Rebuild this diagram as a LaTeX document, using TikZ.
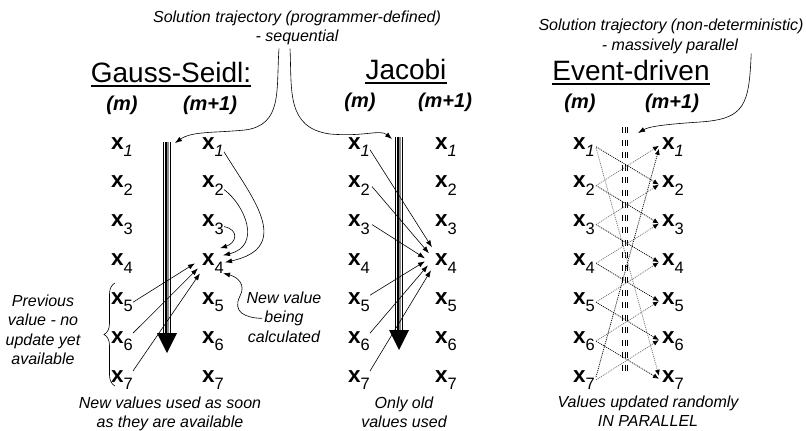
\documentclass[tikz,border=0pt]{standalone}
\usepackage{fontspec}
\setmainfont{Liberation Sans}
\usetikzlibrary{arrows.meta,calc,decorations.pathreplacing}
\newcommand\xlab[1]{\fontsize{22.5}{22.5}\selectfont\textbf{x}\raisebox{-7.5pt}{\fontsize{16.5}{16.5}\selectfont #1}}
\begin{document}
\begin{tikzpicture}[x=1pt,y=-1pt,
  xnode/.style={inner sep=0pt, anchor=base},
  ttl/.style={inner sep=0pt, anchor=base, font=\fontsize{28}{28}\selectfont},
  hdr/.style={inner sep=0pt, anchor=base, font=\fontsize{20}{20}\selectfont\bfseries\itshape},
  note/.style={inner sep=0pt, anchor=base, font=\fontsize{16}{16}\selectfont\itshape},
  arr/.style={-{Latex[length=7pt,width=5pt]}, line width=0.6pt},
  dotdown/.style={dash pattern=on 1pt off 1pt, line width=0.75pt, black, -{Latex[length=6pt,width=5pt,color=black]}},
  dotup/.style={dash pattern=on 1pt off 1pt, line width=0.75pt, black!55, -{Latex[length=6pt,width=5pt,color=black]}},
  trajblack/.style={line width=8.5pt, black},
  trajwhite/.style={line width=6.3pt, white},
  trajinner/.style={line width=4.5pt, black},
  trajgray/.style={line width=2.6pt, black!45},
  edash/.style={line width=0.9pt, dash pattern=on 6pt off 6.5pt},
]
\useasboundingbox (0,0) rectangle (806,431);

% titles
\node[ttl] (tgs) at (171,82) {Gauss-Seidl:};
\node[ttl] (tj) at (406,79) {Jacobi};
\node[ttl] (te) at (631,80) {Event-driven};
\foreach \t in {tgs,tj,te}
  \draw[line width=1.8pt] ($(\t.base west)+(0,4)$) -- ($(\t.base east)+(0,4)$);

% headers
\node[hdr] (hgm) at (122,110) {(m)};
\node[hdr] (hgn) at (210,110) {(m+1)};
\node[hdr] (hjm) at (360,107) {(m)};
\node[hdr] (hjn) at (445,107) {(m+1)};
\node[hdr] (hem) at (580,108) {(m)};
\node[hdr] (hen) at (672,108) {(m+1)};

% labels
\foreach \i/\y/\s in {1/149/\textit{1},2/187.8/2,3/226.7/3,4/265.5/4,5/304.3/5,6/343.2/6,7/382/7}{
  \node[xnode] (gm\i) at (122,\y) {\xlab{\s}};
  \node[xnode] (gn\i) at (213,\y) {\xlab{\s}};
  \node[xnode] (jm\i) at (359,\y) {\xlab{\s}};
  \node[xnode] (jn\i) at (446,\y) {\xlab{\s}};
  \node[xnode] (em\i) at (584,\y) {\xlab{\s}};
  \node[xnode] (en\i) at (673,\y) {\xlab{\s}};
}

% trajectory bars
\coordinate (gst) at (167,142); \coordinate (gsb) at (167,334);
\coordinate (jt) at (399,137);  \coordinate (jb) at (399,331);
\foreach \a/\b in {gst/gsb,jt/jb}{
  \draw[trajblack] (\a) -- (\b);
  \draw[trajwhite] (\a) -- (\b);
  \draw[trajinner] (\a) -- (\b);
  \draw[trajgray] ($(\a)+(0.8,0)$) -- ($(\b)+(0.8,0)$);
}
\fill ($(gsb)+(-10,-1)$) -- ($(gsb)+(10,-1)$) -- ($(gsb)+(0,19)$) -- cycle;
\fill ($(jb)+(-10,-1)$) -- ($(jb)+(10,-1)$) -- ($(jb)+(0,19)$) -- cycle;

% event-driven dashed bar
\coordinate (et) at (625,127); \coordinate (eb) at (625,376);
\foreach \dx in {-2.8,0,2.8}
  \draw[edash] ($(et)+(\dx,0)$) -- ($(eb)+(\dx,0)$);

% notes
\node[note] (gsn1) at (297,23) {Solution trajectory (programmer-defined)};
\node[note] (gsn2) at (297,41) {- sequential};
\node[note] (edn1) at (671,30) {Solution trajectory (non-deterministic)};
\node[note] (edn2) at (670,50) {- massively parallel};

\coordinate (gsa) at (175,143);
\coordinate (ja) at (392,139);
\coordinate (ea) at (638,133);
\draw[arr] ($(gsn2.south)+(-18,4)$) .. controls (276,90) and (283,125) .. (245,130)
   .. controls (215,133) and (192,131) .. (gsa);
\draw[arr] ($(gsn2.south)+(-7,4)$) .. controls (292,90) and (286,128) .. (330,134)
   .. controls (365,137) and (380,129) .. (ja);
\draw[arr] ($(edn2.south east)+(13,0)$) .. controls (749,105) and (745,119) .. (700,122)
   .. controls (670,124) and (650,126) .. (ea);

% Gauss-Seidel arrows
\draw[arr] ($(gn1.east)+(0,5)$) .. controls (250,195) and (295,247) .. ($(gn4.east)+(1,-1)$);
\draw[arr] ($(gn2.east)+(0,4)$) .. controls (245,205) and (262,246) .. ($(gn4.east)+(-1,-8)$);
\draw[arr] ($(gn3.east)+(0,2)$) .. controls (240,230) and (236,243) .. ($(gn4.east)+(-4,-15)$);
\draw[arr] (gm5.east) -- ($(gn4.west)+(-7,0)$);
\draw[arr] ($(gm6.north east)+(0,2)$) -- ($(gn4.west)+(-4,5)$);
\draw[arr] ($(gm7.north east)+(0,1)$) -- ($(gn4.west)+(-2,10)$);

% Previous value brace
\draw[decorate, decoration={brace, amplitude=11pt}, line width=0.6pt] (115,386) -- (115,283);
\node[note] (pv1) at (43,306) {Previous};
\node[note] (pv2) at (43,325.5) {value - no};
\node[note] (pv3) at (43,345) {update yet};
\node[note] (pv4) at (43,364.5) {available};

% New value being calculated
\node[note] (nv1) at (284,303) {New value};
\node[note] (nv2) at (284,322.5) {being};
\node[note] (nv3) at (284,342) {calculated};
\draw[arr] ($(nv2.west)+(-2,0)$) .. controls (245,318) and (232,312) .. (240,296)
   .. controls (246,285) and (238,277) .. ($(gn4.east)+(-1,10)$);

% Jacobi arrows
\draw[arr] ($(jm1.east)+(0,3)$) -- ($(jn4.west)+(-3,-16)$);
\draw[arr] ($(jm2.east)+(2,1)$) -- ($(jn4.west)+(-6,-10)$);
\draw[arr] ($(jm3.east)+(2,0)$) -- ($(jn4.west)+(-10,-5)$);
\draw[arr] ($(jm5.north east)+(0,3)$) -- ($(jn4.west)+(-10,-2)$);
\draw[arr] ($(jm6.north east)+(0,2)$) -- ($(jn4.west)+(-7,2)$);
\draw[arr] ($(jm7.north east)+(0,1)$) -- ($(jn4.west)+(-4,7)$);

% Event-driven dotted arrows
\foreach \i/\j in {1/2,2/3,3/4,4/5,5/6,6/7}
  \draw[dotdown] ($(em\i.east)+(1,0)$) -- ($(en\j.west)+(-3,-1)$);
\foreach \i/\j in {2/1,3/2,4/3,5/4,6/5,7/6}
  \draw[dotup] ($(em\i.east)+(1,0)$) -- ($(en\j.west)+(-3,-1)$);
\draw[dotup] ($(em1.east)+(1,1)$) -- ($(en7.west)+(-3,-4)$);
\draw[dotdown] ($(em7.east)+(1,-3)$) -- ($(en1.west)+(-3,2)$);

% bottom captions
\node[note] (c1a) at (170,408) {New values used as soon};
\node[note] (c1b) at (170,427) {as they are available};
\node[note] (c2a) at (404,408) {Only old};
\node[note] (c2b) at (404,427) {values used};
\node[note] (c3a) at (648,407) {Values updated randomly};
\node[note] (c3b) at (648,426) {IN PARALLEL};
\end{tikzpicture}
\end{document}
